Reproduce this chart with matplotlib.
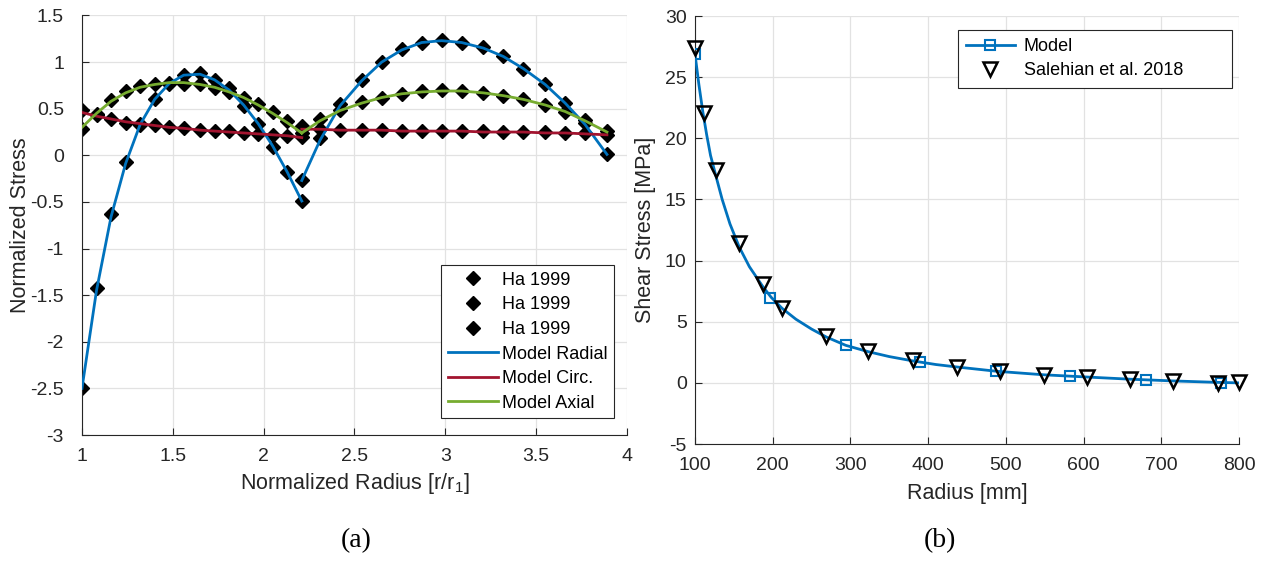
import matplotlib
matplotlib.use('Agg')
import matplotlib.pyplot as plt
from matplotlib.lines import Line2D

plt.rcParams['font.family'] = ['Liberation Sans', 'DejaVu Sans']
plt.rcParams['axes.unicode_minus'] = False
plt.rcParams['mathtext.fontset'] = 'custom'
plt.rcParams['mathtext.rm'] = 'Liberation Sans'

# ---- (a) normalized stresses ----
r_left = [1.00, 1.08, 1.16, 1.24, 1.32, 1.40, 1.48, 1.56, 1.65, 1.73, 1.81, 1.89, 1.97, 2.05, 2.13, 2.21]
r_right = [2.21, 2.31, 2.42, 2.54, 2.65, 2.76, 2.87, 2.98, 3.09, 3.21, 3.32, 3.43, 3.55, 3.66, 3.77, 3.89]

ha_radial_l = [-2.50, -1.42, -0.63, -0.07, 0.34, 0.60, 0.77, 0.86, 0.88, 0.81, 0.72, 0.53, 0.34, 0.09, -0.18, -0.49]
ha_radial_r = [-0.27, 0.19, 0.55, 0.81, 1.00, 1.14, 1.20, 1.24, 1.21, 1.16, 1.07, 0.93, 0.77, 0.56, 0.35, 0.01]
ha_circ_l = [0.49, 0.43, 0.39, 0.35, 0.33, 0.32, 0.30, 0.29, 0.27, 0.26, 0.26, 0.24, 0.23, 0.22, 0.21, 0.20]
ha_circ_r = [0.28, 0.28, 0.27, 0.27, 0.27, 0.26, 0.26, 0.26, 0.26, 0.26, 0.25, 0.25, 0.25, 0.24, 0.24, 0.22]
ha_axial_l = [0.28, 0.44, 0.59, 0.69, 0.74, 0.77, 0.78, 0.77, 0.77, 0.72, 0.68, 0.62, 0.55, 0.46, 0.37, 0.31]
ha_axial_r = [0.24, 0.39, 0.49, 0.57, 0.62, 0.66, 0.69, 0.70, 0.69, 0.67, 0.64, 0.60, 0.54, 0.47, 0.38, 0.26]

model_radial_l = [-2.50, -1.45, -0.66, -0.09, 0.33, 0.60, 0.77, 0.86, 0.87, 0.81, 0.70, 0.54, 0.34, 0.10, -0.18, -0.49]
model_radial_r = [-0.27, 0.16, 0.53, 0.80, 1.00, 1.13, 1.21, 1.23, 1.21, 1.15, 1.06, 0.93, 0.76, 0.56, 0.33, 0.01]
model_circ_l = [0.46, 0.42, 0.39, 0.36, 0.34, 0.32, 0.30, 0.29, 0.27, 0.26, 0.25, 0.24, 0.23, 0.22, 0.21, 0.19]
model_circ_r = [0.28, 0.28, 0.27, 0.27, 0.27, 0.26, 0.26, 0.26, 0.26, 0.25, 0.25, 0.25, 0.24, 0.24, 0.23, 0.22]
model_axial_l = [0.30, 0.45, 0.58, 0.67, 0.73, 0.76, 0.78, 0.78, 0.76, 0.73, 0.68, 0.62, 0.54, 0.45, 0.35, 0.24]
model_axial_r = [0.24, 0.37, 0.48, 0.56, 0.62, 0.66, 0.68, 0.69, 0.69, 0.67, 0.64, 0.60, 0.54, 0.47, 0.37, 0.25]

# ---- (b) shear stress ----
model_r = [100, 105, 110, 115, 120, 127, 135, 145, 157, 170, 187, 198, 212, 230, 250, 269, 294, 323,
           350, 380, 410, 437, 488, 549, 604, 660, 715, 773, 800]
model_tau = [26.9, 24.4, 22.2, 20.3, 18.6, 16.9, 15.0, 13.0, 11.1, 9.5, 7.9, 7.0, 6.1, 5.2, 4.4, 3.75,
             3.07, 2.55, 2.15, 1.8, 1.5, 1.3, 0.95, 0.66, 0.48, 0.3, 0.16, 0.04, 0.0]
square_r = [100, 197, 294, 390, 487, 583, 680, 777]
square_tau = [26.9, 6.95, 3.07, 1.70, 0.95, 0.53, 0.27, 0.03]
sal_r = [100, 112, 127, 157, 187, 212, 269, 323, 380, 437, 493, 549, 604, 660, 715, 773, 800]
sal_tau = [27.4, 22.1, 17.4, 11.4, 8.1, 6.1, 3.8, 2.6, 1.85, 1.3, 0.95, 0.66, 0.47, 0.28, 0.14, 0.02, 0.05]

blue = '#0072BD'
red = '#A2142F'
green = '#77AC30'
dark = '#262626'

fig = plt.figure(figsize=(12.65, 5.78), dpi=100)
ax1 = fig.add_axes([0.0648, 0.2474, 0.4308, 0.7258])
ax2 = fig.add_axes([0.5494, 0.2318, 0.4300, 0.7405])


def style(ax, ypad):
    ax.grid(True, color='#e2e2e2', linewidth=0.9)
    ax.set_axisbelow(True)
    for s in ['top', 'right']:
        ax.spines[s].set_visible(False)
    for s in ['left', 'bottom']:
        ax.spines[s].set_color(dark)
        ax.spines[s].set_linewidth(0.8)
    ax.tick_params(direction='in', length=5, width=0.8, labelsize=14, colors=dark)
    ax.tick_params(axis='x', pad=9)
    ax.tick_params(axis='y', pad=ypad)


nan = float('nan')
style(ax1, 13)
ax1.plot(r_left, ha_radial_l, 'D', color='k', ms=7.5, label='Ha 1999', zorder=2)
ax1.plot(r_left, ha_circ_l, 'D', color='k', ms=7.5, label='Ha 1999', zorder=2)
ax1.plot(r_left, ha_axial_l, 'D', color='k', ms=7.5, label='Ha 1999', zorder=2)
ax1.plot(r_right, ha_radial_r, 'D', color='k', ms=7.5, zorder=2)
ax1.plot(r_right, ha_circ_r, 'D', color='k', ms=7.5, zorder=2)
ax1.plot(r_right, ha_axial_r, 'D', color='k', ms=7.5, zorder=2)
ax1.plot(r_left + [nan] + r_right, model_radial_l + [nan] + model_radial_r, color=blue, lw=2, label='Model Radial', zorder=3)
ax1.plot(r_left + [nan] + r_right, model_circ_l + [nan] + model_circ_r, color=red, lw=2, label='Model Circ.', zorder=3)
ax1.plot(r_left + [nan] + r_right, model_axial_l + [nan] + model_axial_r, color=green, lw=2, label='Model Axial', zorder=3)
ax1.set_xlim(1, 4)
ax1.set_ylim(-3, 1.5)
ax1.set_xticks([1, 1.5, 2, 2.5, 3, 3.5, 4])
ax1.set_xticklabels(['1', '1.5', '2', '2.5', '3', '3.5', '4'])
ax1.set_yticks([-3, -2.5, -2, -1.5, -1, -0.5, 0, 0.5, 1, 1.5])
ax1.set_yticklabels(['-3', '-2.5', '-2', '-1.5', '-1', '-0.5', '0', '0.5', '1', '1.5'])
ax1.set_xlabel(r'Normalized Radius [r/r$_\mathregular{1}$]', fontsize=15.5, color=dark, labelpad=5)
ax1.set_ylabel('Normalized Stress', fontsize=15.5, color=dark)
ax1.yaxis.set_label_coords(-0.093, 0.5)
leg1 = ax1.legend(loc='lower right', fontsize=13, frameon=True, fancybox=False, edgecolor=dark,
                  framealpha=1, labelspacing=0.42, handlelength=2.8, handletextpad=0.2,
                  borderpad=0.35, borderaxespad=0, bbox_to_anchor=(0.976, 0.0405))
leg1.get_frame().set_linewidth(0.8)

style(ax2, 6)
ax2.plot(model_r, model_tau, color=blue, lw=2, zorder=3)
ax2.plot(square_r, square_tau, 's', mfc='none', mec=blue, mew=1.5, ms=6.5, zorder=4)
ax2.plot(sal_r, sal_tau, 'v', mfc='none', mec='k', mew=1.8, ms=10, zorder=5, clip_on=False)
ax2.set_xlim(100, 800)
ax2.set_ylim(-5, 30)
ax2.set_xticks(range(100, 801, 100))
ax2.set_yticks(range(-5, 31, 5))
ax2.set_xlabel('Radius [mm]', fontsize=15.5, color=dark, labelpad=7)
ax2.set_ylabel('Shear Stress [MPa]', fontsize=15.5, color=dark)
ax2.yaxis.set_label_coords(-0.072, 0.5)
handles = [Line2D([], [], color=blue, lw=2, marker='s', mfc='none', mec=blue, mew=1.5, ms=6.5),
           Line2D([], [], ls='none', marker='v', mfc='none', mec='k', mew=1.8, ms=10)]
leg2 = ax2.legend(handles, ['Model', 'Salehian et al. 2018'], loc='upper left', fontsize=13,
                  frameon=True, fancybox=False, edgecolor=dark, framealpha=1, labelspacing=0.4,
                  handlelength=2.7, handletextpad=0.5, borderpad=0.45, borderaxespad=0,
                  mode='expand', bbox_to_anchor=(0.4835, 0.5, 0.5035, 0.467))
leg2.get_frame().set_linewidth(0.8)

fig.text(0.2814, 0.064, '(a)', family='Liberation Serif', fontsize=20, ha='center', va='center')
fig.text(0.7431, 0.064, '(b)', family='Liberation Serif', fontsize=20, ha='center', va='center')

fig.savefig('out.png', dpi=100)
